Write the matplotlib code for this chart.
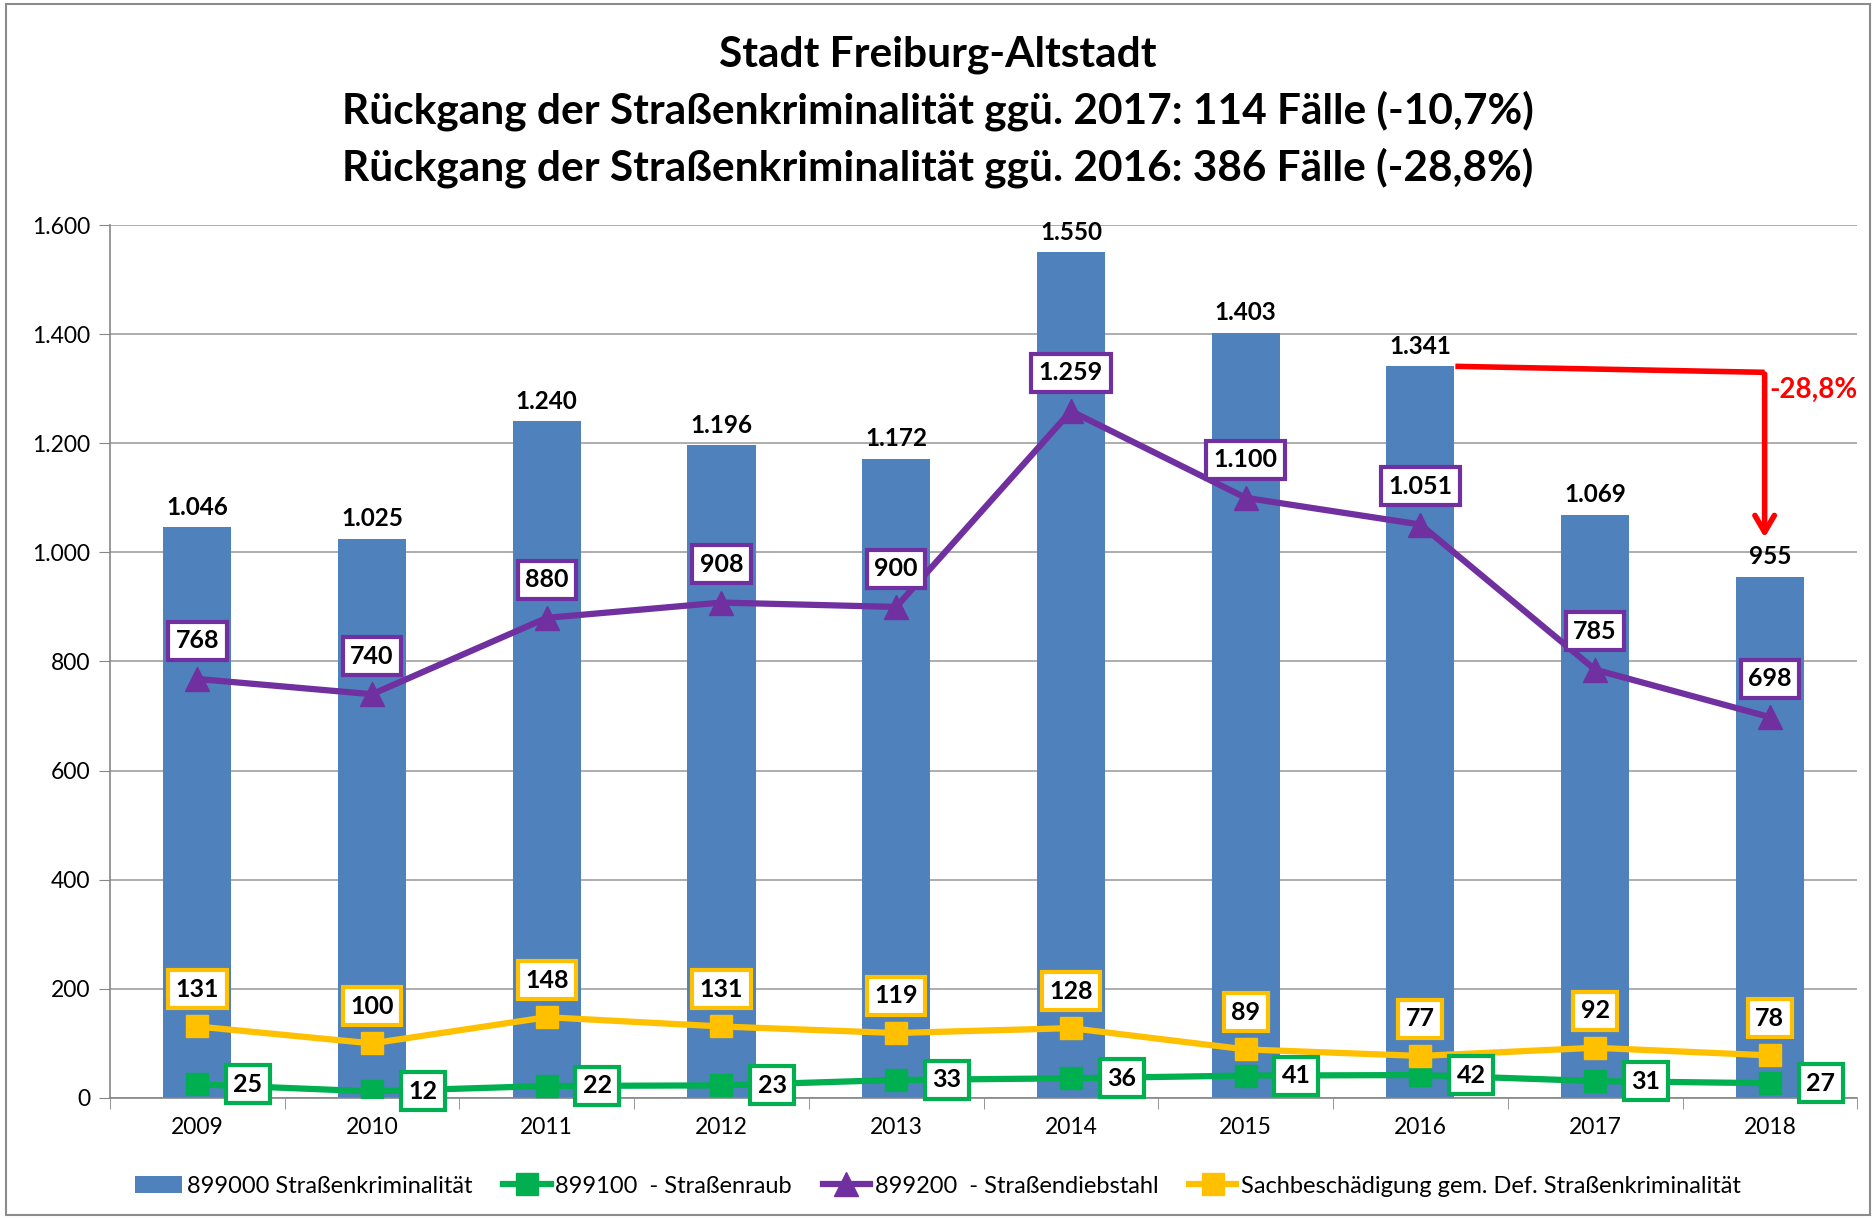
import matplotlib
matplotlib.use("Agg")
import matplotlib.pyplot as plt
from matplotlib.patches import Rectangle

plt.rcParams['font.family'] = ['Lato', 'DejaVu Sans']

# DATA
years = ["2009", "2010", "2011", "2012", "2013", "2014", "2015", "2016", "2017", "2018"]
strassenkrim = [1046, 1025, 1240, 1196, 1172, 1550, 1403, 1341, 1069, 955]
strassenraub = [25, 12, 22, 23, 33, 36, 41, 42, 31, 27]
strassendiebstahl = [768, 740, 880, 908, 900, 1259, 1100, 1051, 785, 698]
sachbesch = [131, 100, 148, 131, 119, 128, 89, 77, 92, 78]

legend_labels = ["899000 Straßenkriminalität", "899100  - Straßenraub",
                 "899200  - Straßendiebstahl", "Sachbeschädigung gem. Def. Straßenkriminalität"]
title = ("Stadt Freiburg-Altstadt\n"
         "Rückgang der Straßenkriminalität ggü. 2017: 114 Fälle (-10,7%)\n"
         "Rückgang der Straßenkriminalität ggü. 2016: 386 Fälle (-28,8%)")

# colors
c_bar = "#4F81BD"
c_green = "#00B050"
c_purple = "#7030A0"
c_yellow = "#FFC000"


def de_fmt(v):
    # german thousands separator
    return f"{v:,}".replace(",", ".")


fig = plt.figure(figsize=(18.76, 12.19), dpi=100)
ax = fig.add_axes([0.0586, 0.0993, 0.9314, 0.7161])

x = list(range(len(years)))

bars = ax.bar(x, strassenkrim, width=0.39, color=c_bar, zorder=2, label=legend_labels[0])
l_raub, = ax.plot(x, strassenraub, color=c_green, lw=4.5, marker="s", ms=16, zorder=4,
                  label=legend_labels[1])
l_dieb, = ax.plot(x, strassendiebstahl, color=c_purple, lw=4.5, marker="^", ms=17, zorder=4,
                  label=legend_labels[2])
l_sach, = ax.plot(x, sachbesch, color=c_yellow, lw=4.5, marker="s", ms=16, zorder=4,
                  label=legend_labels[3])

lbl = dict(ha="center", va="center", fontsize=18, fontweight="bold", zorder=6)
box = dict(boxstyle="square,pad=0.3", fc="white", lw=3)

# value labels
for xi, v in zip(x, strassenkrim):
    ax.text(xi, v + 16, de_fmt(v), ha="center", va="bottom", fontsize=17.5, fontweight="bold", zorder=6)

for xi, v in zip(x, strassendiebstahl):
    ax.text(xi, v + 70, de_fmt(v), bbox=dict(box, ec=c_purple), **lbl)

for xi, v in zip(x, sachbesch):
    ax.text(xi, v + 68, de_fmt(v), bbox=dict(box, ec=c_yellow), **lbl)

for xi, v in zip(x, strassenraub):
    ax.text(xi + 0.29, v, de_fmt(v), bbox=dict(box, ec=c_green), **lbl)

# red arrow 2016 -> 2018
ax.plot([7.2, 8.97], [1341, 1330], color="red", lw=4, zorder=5, solid_capstyle="butt")
ax.annotate("", xy=(8.97, 1022), xytext=(8.97, 1332),
            arrowprops=dict(arrowstyle="->,head_length=1.2,head_width=0.7", color="red", lw=4),
            zorder=5)
ax.text(9.0, 1298, "-28,8%", color="red", fontsize=20, fontweight="bold", ha="left", va="center")

# axes styling
ax.set_xlim(-0.5, 9.5)
ax.set_ylim(0, 1600)
ax.set_yticks(range(0, 1601, 200))
ax.set_yticklabels([de_fmt(v) for v in range(0, 1601, 200)], fontsize=16.5)
ax.set_xticks(x)
ax.set_xticklabels(years, fontsize=16.5)
ax.set_xticks([i - 0.5 for i in range(len(years) + 1)], minor=True)
ax.tick_params(axis="x", which="major", length=0, pad=14)
ax.tick_params(axis="x", which="minor", length=8, color="#868686")
ax.tick_params(axis="y", length=8, color="#868686", pad=6)
ax.grid(axis="y", color="#A0A0A0", lw=1.2, zorder=0)
ax.set_axisbelow(True)
for s in ["top", "right"]:
    ax.spines[s].set_visible(False)
for s in ["left", "bottom"]:
    ax.spines[s].set_color("#868686")
    ax.spines[s].set_linewidth(1.2)

fig.text(0.5, 0.971, title, ha="center", va="top", fontsize=30.5, fontweight="bold", linespacing=1.5)

fig.legend(handles=[bars, l_raub, l_dieb, l_sach], loc="center", bbox_to_anchor=(0.5, 0.027),
           ncol=4, frameon=False, fontsize=17, handlelength=2.0, handletextpad=0.2, columnspacing=1.3)

# chart border
fig.patches.append(Rectangle((0.003, 0.003), 0.994, 0.994, transform=fig.transFigure,
                             fill=False, ec="#8C8C8C", lw=1.5))

fig.savefig("out.png", dpi=100)
